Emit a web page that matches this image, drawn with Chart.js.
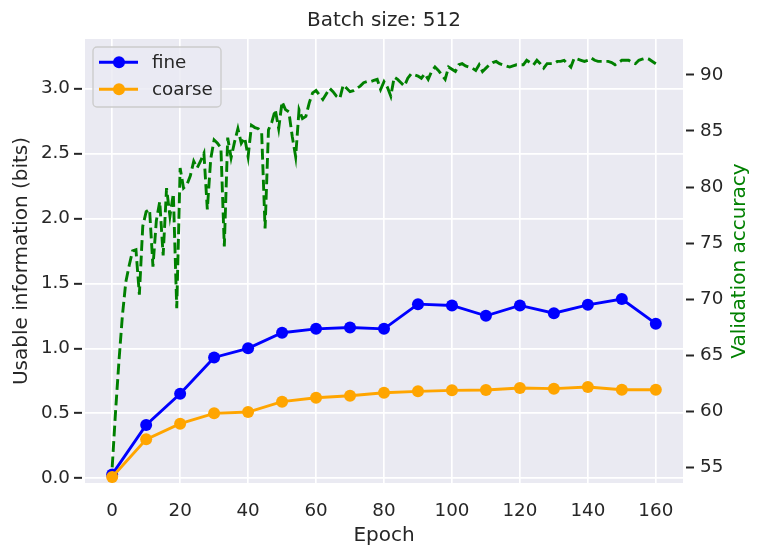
<!DOCTYPE html>
<html>
<head>
<meta charset="utf-8">
<script src="https://cdn.jsdelivr.net/npm/chart.js@4.4.0/dist/chart.umd.min.js"></script>
<style>
  html, body { margin: 0; padding: 0; background: #fff; }
</style>
</head>
<body>
<canvas id="chart" width="762" height="557"></canvas>
<script>
// epochs where the usable information was measured
const infoEpochs = [0, 10, 20, 30, 40, 50, 60, 70, 80, 90, 100, 110, 120, 130, 140, 150, 160];
const fineBits = [0.03, 0.41, 0.65, 0.93, 1.0, 1.12, 1.15, 1.16, 1.15, 1.34, 1.33, 1.25, 1.33, 1.27, 1.335, 1.38, 1.19];
const coarseBits = [0.01, 0.30, 0.42, 0.50, 0.51, 0.59, 0.62, 0.635, 0.658, 0.669, 0.677, 0.679, 0.695, 0.69, 0.702, 0.682, 0.682];

// validation accuracy, one value per epoch (0..160)
const valAccuracy = [
  55.0, 60.0, 64.5, 68.5, 71.5, 73.0, 74.3, 74.4, 70.4, 76.5,
  77.8, 78.0, 72.9, 77.0, 78.7, 73.9, 79.9, 77.4, 79.4, 69.2,
  81.7, 79.9, 80.2, 81.0, 82.3, 81.7, 82.3, 83.0, 78.0, 82.5,
  84.2, 83.9, 83.5, 74.7, 84.4, 82.6, 84.0, 85.2, 83.9, 84.4,
  82.7, 85.5, 85.3, 85.2, 84.8, 76.3, 85.1, 85.8, 86.9, 85.2,
  87.6, 86.9, 86.7, 84.5, 82.7, 86.9, 86.1, 86.3, 87.5, 88.4,
  88.6, 88.2, 87.8, 88.3, 88.8, 88.5, 88.1, 87.9, 89.1, 88.8,
  88.5, 88.6, 88.8, 89.0, 89.3, 89.4, 89.4, 89.5, 89.6, 88.7,
  89.4, 88.9, 88.1, 89.8, 89.6, 89.3, 89.0, 89.7, 90.1, 90.0,
  89.9, 89.7, 90.1, 89.6, 90.3, 90.7, 90.4, 90.0, 89.6, 90.7,
  90.5, 90.3, 90.9, 91.0, 90.8, 90.7, 90.6, 90.4, 90.9, 90.3,
  90.6, 90.9, 91.1, 91.2, 91.0, 90.9, 90.8, 90.7, 90.8, 90.9,
  90.9, 90.9, 91.3, 91.1, 90.9, 91.3, 91.0, 90.6, 91.0, 91.0,
  91.0, 91.2, 91.2, 91.3, 91.0, 90.7, 91.5, 91.4, 91.3, 91.2,
  91.3, 91.5, 91.3, 91.2, 91.2, 91.2, 91.2, 91.1, 90.9, 91.1,
  91.3, 91.3, 91.3, 91.1, 91.0, 91.3, 91.4, 91.5, 91.4, 91.2, 91.0
];

// tick labels
const epochTicks = [0, 20, 40, 60, 80, 100, 120, 140, 160];
const bitsTicks = [0, 0.5, 1.0, 1.5, 2.0, 2.5, 3.0];
const accTicks = [55, 60, 65, 70, 75, 80, 85, 90];

const FONT = '"DejaVu Sans"';
const TEXT = '#262626';

// grey plot background like seaborn darkgrid
const plotBackground = {
    id: 'plotBackground',
    beforeDraw(chart) {
        const { ctx, chartArea: a } = chart;
        ctx.save();
        ctx.fillStyle = '#eaeaf2';
        ctx.fillRect(a.left, a.top, a.right - a.left, a.bottom - a.top);
        ctx.restore();
    }
};

// right axis title reads bottom to top, chart.js would rotate it the other way
const rightTitle = {
    id: 'rightTitle',
    afterDraw(chart) {
        const { ctx, chartArea: a } = chart;
        ctx.save();
        ctx.translate(chart.scales.y2.right - 22, (a.top + a.bottom) / 2);
        ctx.rotate(-Math.PI / 2);
        ctx.font = '20px ' + FONT;
        ctx.fillStyle = 'green';
        ctx.textAlign = 'center';
        ctx.textBaseline = 'middle';
        ctx.fillText('Validation accuracy', 0, 0);
        ctx.restore();
    }
};

// legend inside the top-left corner of the plot
const innerLegend = {
    id: 'innerLegend',
    afterDraw(chart) {
        const { ctx, chartArea: a } = chart;
        const items = chart.data.datasets.filter(d => d.yAxisID === 'y');
        const x = a.left + 8, y = a.top + 8, w = 128, h = 60;
        ctx.save();
        ctx.beginPath();
        ctx.roundRect(x, y, w, h, 4);
        ctx.fillStyle = 'rgba(234, 234, 242, 0.8)';
        ctx.fill();
        ctx.strokeStyle = '#cccccc';
        ctx.lineWidth = 1.4;
        ctx.stroke();
        items.forEach((d, i) => {
            const cy = y + 15.3 + i * 27;
            ctx.strokeStyle = d.borderColor;
            ctx.lineWidth = d.borderWidth;
            ctx.beginPath();
            ctx.moveTo(x + 6, cy);
            ctx.lineTo(x + 45, cy);
            ctx.stroke();
            ctx.fillStyle = d.pointBackgroundColor;
            ctx.beginPath();
            ctx.arc(x + 26, cy, d.pointRadius, 0, Math.PI * 2);
            ctx.fill();
            ctx.fillStyle = TEXT;
            ctx.font = '18.3px ' + FONT;
            ctx.textAlign = 'left';
            ctx.textBaseline = 'middle';
            ctx.fillText(d.label, x + 59, cy + 1);
        });
        ctx.restore();
    }
};

function pointsOf(xs, ys) {
    return ys.map((v, i) => ({ x: xs[i], y: v }));
}

const ctx = document.getElementById('chart').getContext('2d');
const chart = new Chart(ctx, {
    type: 'line',
    data: {
        datasets: [{
            label: 'fine',
            data: pointsOf(infoEpochs, fineBits),
            yAxisID: 'y',
            borderColor: '#0000ff',
            backgroundColor: '#0000ff',
            pointBackgroundColor: '#0000ff',
            pointBorderWidth: 0,
            pointRadius: 6,
            borderWidth: 2.9,
            order: 1
        }, {
            label: 'coarse',
            data: pointsOf(infoEpochs, coarseBits),
            yAxisID: 'y',
            borderColor: '#ffa500',
            backgroundColor: '#ffa500',
            pointBackgroundColor: '#ffa500',
            pointBorderWidth: 0,
            pointRadius: 6,
            borderWidth: 2.9,
            order: 0
        }, {
            label: 'Validation accuracy',
            data: valAccuracy.map((v, epoch) => ({ x: epoch, y: v })),
            yAxisID: 'y2',
            borderColor: '#008000',
            borderWidth: 2.9,
            borderDash: [10.8, 4.7],
            pointRadius: 0,
            order: -1
        }]
    },
    options: {
        responsive: false,
        animation: false,
        devicePixelRatio: 1,
        layout: { padding: 0 },
        plugins: {
            legend: { display: false },
            tooltip: { enabled: false },
            title: {
                display: true,
                text: 'Batch size: 512',
                color: TEXT,
                fullSize: false,
                font: { family: FONT, size: 20, weight: 'normal', lineHeight: 1.2 },
                padding: { top: 9, bottom: 6 }
            }
        },
        scales: {
            x: {
                type: 'linear',
                min: -8,
                max: 168,
                afterBuildTicks: s => { s.ticks = epochTicks.map(v => ({ value: v })); },
                afterFit: s => { s.height = 74; },
                border: { display: false },
                grid: { color: '#ffffff', lineWidth: 1.67, drawTicks: false },
                ticks: {
                    color: TEXT,
                    padding: 17,
                    maxRotation: 0,
                    font: { family: FONT, size: 18.3 },
                    callback: v => String(v)
                },
                title: {
                    display: true,
                    text: 'Epoch',
                    color: TEXT,
                    font: { family: FONT, size: 20, lineHeight: 1.2 },
                    padding: { top: 0, bottom: 9 }
                }
            },
            y: {
                type: 'linear',
                position: 'left',
                min: -0.036,
                max: 3.38,
                afterBuildTicks: s => { s.ticks = bitsTicks.map(v => ({ value: v })); },
                afterFit: s => { s.width = 85; },
                border: { display: false },
                grid: {
                    color: '#ffffff',
                    lineWidth: 1.67,
                    tickColor: TEXT,
                    tickWidth: 2,
                    tickLength: 11,
                    tickBorderDash: [8, 3]
                },
                ticks: {
                    color: TEXT,
                    padding: 4,
                    font: { family: FONT, size: 18.3 },
                    callback: v => v.toFixed(1)
                },
                title: {
                    display: true,
                    text: 'Usable information (bits)',
                    color: TEXT,
                    font: { family: FONT, size: 20, lineHeight: 1.2 },
                    padding: { top: 10, bottom: 0 }
                }
            },
            y2: {
                type: 'linear',
                position: 'right',
                min: 53.6,
                max: 93.2,
                afterBuildTicks: s => { s.ticks = accTicks.map(v => ({ value: v })); },
                afterFit: s => { s.width = 79; },
                border: { display: false },
                grid: {
                    drawOnChartArea: false,
                    tickColor: TEXT,
                    tickWidth: 2,
                    tickLength: 11,
                    tickBorderDash: [8, 3],
                    tickBorderDashOffset: 8
                },
                ticks: {
                    color: TEXT,
                    padding: 6,
                    font: { family: FONT, size: 18.3 },
                    callback: v => String(v)
                }
            }
        }
    },
    plugins: [plotBackground, rightTitle, innerLegend]
});
</script>
</body>
</html>
